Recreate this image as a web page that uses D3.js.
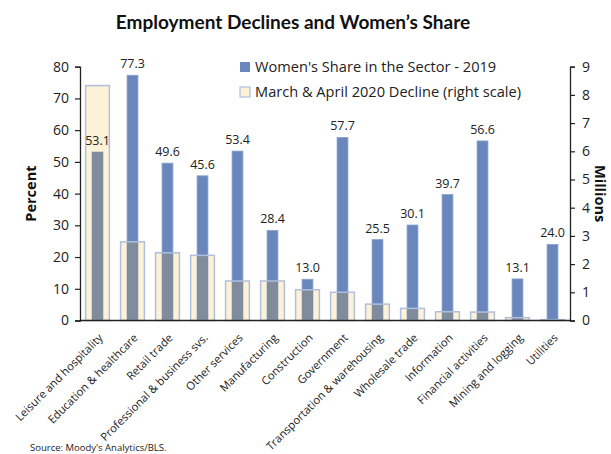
<!DOCTYPE html>
<html>
<head>
<meta charset="utf-8">
<script src="https://cdn.jsdelivr.net/npm/d3@7"></script>
<style>
  html, body { margin: 0; padding: 0; background: #fff; }
  svg { display: block; font-family: "Open Sans", "Noto Sans", sans-serif; }
</style>
</head>
<body>
<svg id="chart" width="611" height="454"></svg>
<script>
// Sectors, in order of the 2020 job losses
const sectors = [
  "Leisure and hospitality", "Education & healthcare", "Retail trade",
  "Professional & business svs.", "Other services", "Manufacturing",
  "Construction", "Government", "Transportation & warehousing",
  "Wholesale trade", "Information", "Financial activities",
  "Mining and logging", "Utilities"
];
// Women's share of sector employment, 2019 (percent, left axis)
const womenShare = [53.1, 77.3, 49.6, 45.6, 53.4, 28.4, 13.0, 57.7, 25.5, 30.1, 39.7, 56.6, 13.1, 24.0];
// Jobs lost in March & April 2020 (millions, right axis)
const decline2020 = [8.33, 2.79, 2.40, 2.31, 1.40, 1.40, 1.09, 1.00, 0.58, 0.43, 0.31, 0.30, 0.10, 0.03];
// Axis ticks
const leftTicks = [0, 10, 20, 30, 40, 50, 60, 70, 80];
const rightTicks = [0, 1, 2, 3, 4, 5, 6, 7, 8, 9];

const svg = d3.select("#chart");
const m = { left: 80, right: 570, top: 66.7, bottom: 320.5 };

const x = d3.scaleBand().domain(sectors).range([m.left, m.right]).paddingInner(0).paddingOuter(0);
const yL = d3.scaleLinear().domain([0, 80]).range([m.bottom, m.top]);
const yR = d3.scaleLinear().domain([0, 9]).range([m.bottom, m.top]);

const blue = "#6a87bd", cream = "#fdf1d6", creamEdge = "#afbfdd", overlap = "#808b9c";
const wideW = x.bandwidth() * 0.68, thinW = x.bandwidth() * 0.31;

const rows = sectors.map((s, i) => ({ s, share: womenShare[i], dec: decline2020[i] }));

// Decline bars (fill only, outlines drawn later on top)
svg.append("g").selectAll("rect").data(rows).join("rect")
  .attr("x", d => x(d.s) + (x.bandwidth() - wideW) / 2)
  .attr("width", wideW)
  .attr("y", d => yR(d.dec))
  .attr("height", d => m.bottom - yR(d.dec))
  .attr("fill", cream);

// Women's share bars
svg.append("g").selectAll("rect").data(rows).join("rect")
  .attr("x", d => x(d.s) + (x.bandwidth() - thinW) / 2)
  .attr("width", thinW)
  .attr("y", d => yL(d.share))
  .attr("height", d => m.bottom - yL(d.share))
  .attr("fill", blue)
  .attr("stroke", "#8aa1cc")
  .attr("stroke-width", 0.8);

// Where the two series overlap, the bars mix to grey
svg.append("g").selectAll("rect").data(rows).join("rect")
  .attr("x", d => x(d.s) + (x.bandwidth() - thinW) / 2)
  .attr("width", thinW)
  .attr("y", d => Math.max(yL(d.share), yR(d.dec)))
  .attr("height", d => m.bottom - Math.max(yL(d.share), yR(d.dec)))
  .attr("fill", overlap);

// Decline bar outlines
svg.append("g").selectAll("rect").data(rows).join("rect")
  .attr("x", d => x(d.s) + (x.bandwidth() - wideW) / 2)
  .attr("width", wideW)
  .attr("y", d => yR(d.dec))
  .attr("height", d => m.bottom - yR(d.dec))
  .attr("fill", "none")
  .attr("stroke", creamEdge)
  .attr("stroke-width", 1.5);

// Value labels on the share bars
svg.append("g").selectAll("text").data(rows).join("text")
  .attr("x", d => x(d.s) + x.bandwidth() / 2)
  .attr("y", d => yL(d.share) - 7)
  .attr("text-anchor", "middle")
  .attr("font-size", 12.5)
  .attr("fill", "#222")
  .text(d => d.share.toFixed(1));

// Axes
const axisL = svg.append("g").attr("transform", `translate(${m.left},0)`)
  .call(d3.axisLeft(yL).tickValues(leftTicks).tickSize(5).tickPadding(6));
const axisR = svg.append("g").attr("transform", `translate(${m.right},0)`)
  .call(d3.axisRight(yR).tickValues(rightTicks).tickSize(5).tickPadding(7));
[axisL, axisR].forEach(g => {
  g.select(".domain").attr("stroke", "#222").attr("stroke-width", 1.3);
  g.selectAll(".tick line").attr("stroke", "#222").attr("stroke-width", 1.2);
  g.selectAll(".tick text").attr("font-size", 14).attr("fill", "#222")
    .attr("font-family", "'Open Sans', sans-serif");
});

// Category baseline
svg.append("line")
  .attr("x1", m.left).attr("x2", m.right)
  .attr("y1", m.bottom).attr("y2", m.bottom)
  .attr("stroke", "#222").attr("stroke-width", 1.3);

// Category labels
svg.append("g").selectAll("text").data(sectors).join("text")
  .attr("transform", d => `translate(${x(d) + x.bandwidth() / 2 + 6},${m.bottom + 18}) rotate(-45)`)
  .attr("text-anchor", "end")
  .attr("font-size", 11.2)
  .attr("fill", "#222")
  .text(d => d);

// Axis titles
svg.append("text")
  .attr("transform", `translate(36,${(m.top + m.bottom) / 2}) rotate(-90)`)
  .attr("text-anchor", "middle").attr("font-size", 14.5).attr("font-weight", "bold")
  .attr("fill", "#111").text("Percent");
svg.append("text")
  .attr("transform", `translate(595,${(m.top + m.bottom) / 2}) rotate(90)`)
  .attr("text-anchor", "middle").attr("font-size", 14.5).attr("font-weight", "bold")
  .attr("fill", "#111").text("Millions");

// Title
svg.append("text")
  .attr("x", 293).attr("y", 29)
  .attr("text-anchor", "middle").attr("font-size", 19).attr("font-weight", "bold")
  .attr("font-family", "Lato, 'Open Sans', sans-serif")
  .attr("fill", "#111").text("Employment Declines and Women’s Share");

// Legend
const legend = [
  { label: "Women's Share in the Sector - 2019", fill: blue, stroke: "none" },
  { label: "March & April 2020 Decline (right scale)", fill: cream, stroke: creamEdge }
];
const lg = svg.append("g").selectAll("g").data(legend).join("g")
  .attr("transform", (d, i) => `translate(240,${62 + i * 25})`);
lg.append("rect").attr("width", 10).attr("height", 10)
  .attr("fill", d => d.fill).attr("stroke", d => d.stroke).attr("stroke-width", 1.2);
lg.append("text").attr("x", 15).attr("y", 10).attr("font-size", 14.6).attr("fill", "#222")
  .text(d => d.label);

// Source note
svg.append("text").attr("x", 30).attr("y", 451).attr("font-size", 9.5).attr("fill", "#222")
  .text("Source: Moody's Analytics/BLS.");
</script>
</body>
</html>
